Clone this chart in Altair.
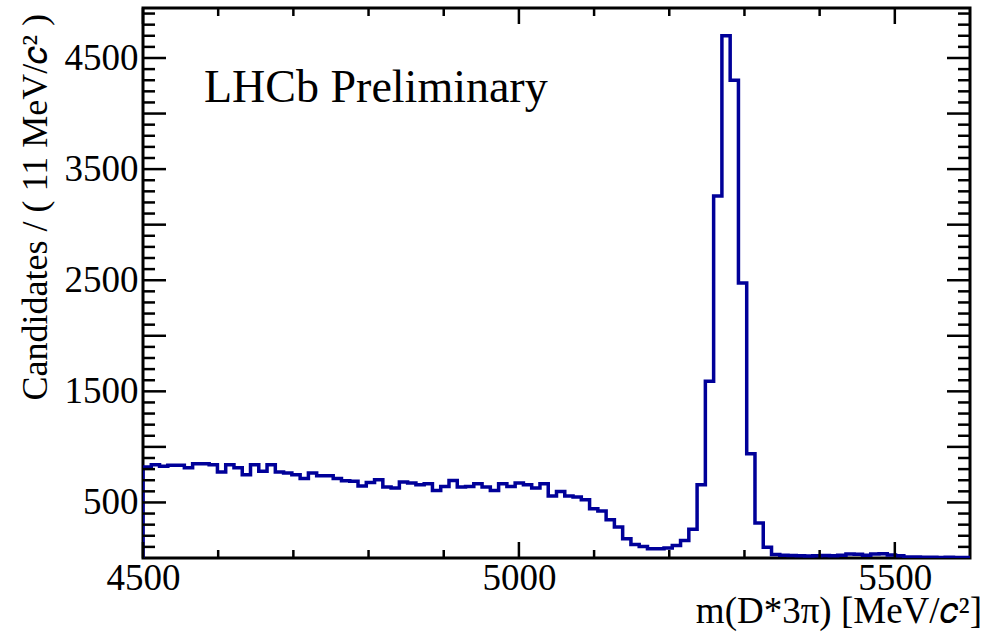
import altair as alt
import pandas as pd

# ---- data ----
BIN_START = 4500
BIN_WIDTH = 11
counts = [
    820, 840, 825, 835, 835, 812, 848, 848, 840, 775,
    840, 812, 750, 840, 780, 840, 775, 765, 750, 715,
    765, 740, 740, 715, 695, 690, 648, 680, 704, 638,
    629, 683, 674, 659, 668, 608, 644, 698, 638, 644,
    668, 638, 608, 668, 644, 674, 659, 629, 668, 557,
    599, 557, 550, 524, 443, 422, 344, 278, 173, 122,
    104, 83, 83, 89, 113, 158, 259, 660, 1590, 3257,
    4700, 4300, 2476, 939, 314, 97, 32, 25, 22, 20,
    18, 20, 22, 20, 25, 35, 33, 25, 35, 38,
    28, 20, 10, 8, 6, 7, 5, 6, 5, 4,
]
x_tick_labels = [4500, 5000, 5500]
y_tick_labels = [500, 1500, 2500, 3500, 4500]
x_major = [4500, 5000, 5500]
x_minor = [4600, 4700, 4800, 4900, 5100, 5200, 5300, 5400]
y_major = [500, 1000, 1500, 2000, 2500, 3000, 3500, 4000, 4500]
y_minor = [v for v in range(100, 4950, 100) if v % 500 != 0]

X_DOMAIN = [4500, 5600]
Y_DOMAIN = [0, 4950]

W, H = 827, 550
FONT = "Liberation Serif"
LINE_COLOR = "#000099"

edges = [BIN_START + BIN_WIDTH * i for i in range(len(counts) + 1)]
hist_df = pd.DataFrame({
    "m": [BIN_START] + edges,
    "n": [0] + counts + [counts[-1]],
    "i": list(range(len(edges) + 1)),
})

xs = alt.Scale(domain=X_DOMAIN, nice=False, zero=False)
ys = alt.Scale(domain=Y_DOMAIN, nice=False, zero=False)

x_axis = alt.Axis(
    values=x_tick_labels, ticks=False, domain=False, grid=False,
    labelFont=FONT, labelFontSize=37, labelPadding=2, labelColor="black",
    labelFlush=False, labelOverlap=False, format="d", title=None)
y_axis = alt.Axis(
    values=y_tick_labels, ticks=False, domain=False, grid=False,
    labelFont=FONT, labelFontSize=37, labelPadding=5, labelColor="black",
    labelFlush=False, labelOverlap=False, format="d", title=None)

hist = alt.Chart(hist_df).mark_line(
    interpolate="step-after", color=LINE_COLOR, strokeWidth=3.5, clip=True
).encode(
    x=alt.X("m:Q", scale=xs, axis=x_axis),
    y=alt.Y("n:Q", scale=ys, axis=y_axis),
    order="i:Q",
)

def xticks(vals, length):
    d = pd.DataFrame({"v": vals})
    bottom = alt.Chart(d).mark_rule(color="black", strokeWidth=2.5).encode(
        x=alt.X("v:Q", scale=xs, axis=x_axis),
        y=alt.value(H), y2=alt.value(H - length))
    top = alt.Chart(d).mark_rule(color="black", strokeWidth=2.5).encode(
        x=alt.X("v:Q", scale=xs, axis=x_axis),
        y=alt.value(0), y2=alt.value(length))
    return [bottom, top]

def yticks(vals, length):
    d = pd.DataFrame({"v": vals})
    left = alt.Chart(d).mark_rule(color="black", strokeWidth=2.5).encode(
        y=alt.Y("v:Q", scale=ys, axis=y_axis),
        x=alt.value(0), x2=alt.value(length))
    right = alt.Chart(d).mark_rule(color="black", strokeWidth=2.5).encode(
        y=alt.Y("v:Q", scale=ys, axis=y_axis),
        x=alt.value(W - length), x2=alt.value(W))
    return [left, right]

tick_layers = xticks(x_major, 16) + xticks(x_minor, 8) + yticks(y_major, 23) + yticks(y_minor, 12)

lhcb = alt.Chart(pd.DataFrame({"t": ["LHCb Preliminary"]})).mark_text(
    font=FONT, fontSize=46, align="left", baseline="alphabetic", color="black"
).encode(x=alt.value(61), y=alt.value(94), text="t:N")

ytitle = alt.Chart(pd.DataFrame({"t": ["Candidates / ( 11 MeV/\U0001D450² )"]})).mark_text(
    font=FONT, fontSize=36, align="right", baseline="middle", angle=270, color="black"
).encode(x=alt.value(-107), y=alt.value(6), text="t:N")

xtitle = alt.Chart(pd.DataFrame({"t": ["m(D*3π) [MeV/\U0001D450²]"]})).mark_text(
    font=FONT, fontSize=37, align="right", baseline="alphabetic", color="black"
).encode(x=alt.value(839), y=alt.value(615), text="t:N")

chart = alt.layer(hist, *tick_layers, lhcb, ytitle, xtitle).properties(
    width=W, height=H,
    autosize=alt.AutoSizeParams(type="none"),
    padding={"left": 143, "top": 8, "right": 16, "bottom": 79},
    background="white",
).configure_view(stroke="black", strokeWidth=3)

chart.save("out.html", embed_options={"renderer": "svg", "actions": False})
